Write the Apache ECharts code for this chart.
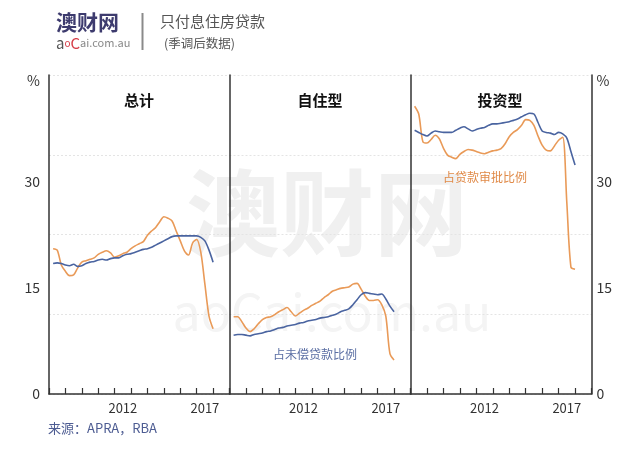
<!DOCTYPE html>
<html><head><meta charset="utf-8">
<script src="https://cdn.jsdelivr.net/npm/echarts@6/dist/echarts.min.js"></script>
<style>html,body{margin:0;padding:0;background:#fff}#c{width:640px;height:454px}</style>
</head><body><div id="c"></div>
<script>
var years = ['2008','2009','2010','2011','2012','2013','2014','2015','2016','2017','2018'];
var shownYears = ['2012','2017'];
var yTicks = [0, 15, 30];
var panelTitles = ['总计', '自住型', '投资型'];
var quarters = [2008.25,2008.5,2008.75,2009,2009.25,2009.5,2009.75,2010,2010.25,2010.5,2010.75,2011,2011.25,2011.5,2011.75,2012,2012.25,2012.5,2012.75,2013,2013.25,2013.5,2013.75,2014,2014.25,2014.5,2014.75,2015,2015.25,2015.5,2015.75,2016,2016.25,2016.5,2016.75,2017,2017.25,2017.5,2017.75,2018];

var totalOutstanding = [18.4,18.5,18.4,18.2,18.1,18.3,18.0,18.1,18.4,18.6,18.7,18.9,19.0,18.9,19.1,19.2,19.2,19.5,19.7,19.8,20.0,20.2,20.4,20.5,20.7,21.0,21.3,21.6,21.9,22.2,22.3,22.3,22.3,22.3,22.3,22.3,22.1,21.6,20.3,18.6];
var totalApprovals = [20.5,20.3,18.2,17.3,16.7,16.8,17.8,18.6,18.8,19.0,19.2,19.7,20.0,20.2,19.9,19.3,19.5,19.8,20.0,20.5,20.9,21.2,21.5,22.4,23.0,23.5,24.3,25.0,24.8,24.4,23.0,21.6,20.2,19.6,21.3,21.8,20.0,15.5,11.0,9.2];
var ownerOutstanding = [8.3,8.4,8.4,8.3,8.2,8.4,8.5,8.6,8.8,8.9,9.1,9.3,9.4,9.6,9.7,9.8,10.0,10.1,10.3,10.4,10.5,10.7,10.8,10.9,11.1,11.3,11.6,11.8,12.0,12.6,13.3,14.0,14.3,14.2,14.1,14.0,14.1,13.4,12.4,11.6];
var ownerApprovals = [10.9,10.9,10.2,9.3,8.8,9.2,9.9,10.5,10.8,10.9,11.2,11.6,11.9,12.2,11.6,11.0,11.4,11.8,12.1,12.5,12.8,13.1,13.6,14.0,14.5,14.7,14.9,15.0,15.1,15.5,15.6,14.8,13.8,13.2,13.2,13.3,12.6,11.0,5.7,4.8];
var investOutstanding = [37.2,36.9,36.6,36.4,36.8,37.1,37.0,36.9,36.9,36.9,37.2,37.5,37.7,37.4,37.1,37.3,37.5,37.6,37.9,38.1,38.1,38.2,38.3,38.4,38.6,38.8,39.1,39.4,39.6,39.5,38.3,37.1,36.9,36.8,36.6,36.9,36.7,36.1,34.2,32.3];
var investApprovals = [40.6,39.5,35.6,35.4,35.9,36.5,36.0,34.7,33.7,33.4,33.2,33.8,34.2,34.5,34.4,34.2,34.0,33.9,34.1,34.3,34.4,34.6,35.3,36.3,36.9,37.3,37.9,38.7,38.6,37.9,36.4,35.1,34.4,34.3,35.0,35.8,36.2,27.0,17.9,17.6];

var outstandingLabel = '占未偿贷款比例';
var approvalsLabel = '占贷款审批比例';

var BLUE = '#4a64a0', ORANGE = '#e99a58', AX = '#333';
var FONT = '"Noto Sans CJK SC", "Noto Sans", sans-serif';

function pairs(xs, ys){ return xs.map(function(x,i){ return [x, ys[i]]; }); }

var grids = [
  {left: 49, width: 180.5, top: 75, height: 319},
  {left: 229.5, width: 181, top: 75, height: 319},
  {left: 410.5, width: 181, top: 75, height: 319}
];

var xAxes = [], yAxes = [];
grids.forEach(function(g, i){
  xAxes.push({
    type: 'category', gridIndex: i, data: years, boundaryGap: true,
    axisLine: {show: true, lineStyle: {color: AX, width: 1.5}},
    axisTick: {show: true, inside: true, length: 6, interval: 0, lineStyle: {color: AX, width: 1.2}},
    axisLabel: {margin: 8, color: AX, fontSize: 13, fontFamily: FONT,
      interval: function(idx, val){ return shownYears.indexOf(val) >= 0; }},
    splitLine: {show: false}
  });
  xAxes.push({type: 'value', gridIndex: i, min: 2008, max: 2019, show: false});
});

function labelAxis(grid, pos, showLabels){
  return {
    type: 'value', gridIndex: grid, position: pos, min: 0, max: 45, interval: 15,
    axisLine: {show: true, onZero: false, lineStyle: {color: AX, width: 1.5}},
    axisTick: {show: false}, splitLine: {show: false},
    axisLabel: {show: showLabels, color: AX, fontSize: 14, fontFamily: FONT, margin: pos === 'left' ? 9 : 5,
      formatter: function(v){ return v === 45 ? '{p|%}' : (yTicks.indexOf(v) >= 0 ? String(v) : ''); },
      rich: {p: {padding: [12, 0, 0, 0], fontSize: 14, color: AX, fontFamily: FONT}}}
  };
}
function splitAxis(grid){
  return {
    type: 'value', gridIndex: grid, min: 0, max: 45, interval: 11.25,
    axisLine: {show: false}, axisTick: {show: false}, axisLabel: {show: false},
    splitLine: {show: true, lineStyle: {color: '#e4e4e4', type: [2, 2], width: 1}}
  };
}
yAxes.push(labelAxis(0, 'left', true));   // 0
yAxes.push(splitAxis(0));                 // 1
yAxes.push(labelAxis(1, 'left', false));  // 2
yAxes.push(splitAxis(1));                 // 3
yAxes.push(labelAxis(2, 'left', false));  // 4
yAxes.push(splitAxis(2));                 // 5
yAxes.push(labelAxis(2, 'right', true));  // 6

function line(name, grid, yIdx, data, color){
  return {
    name: name, type: 'line', xAxisIndex: grid * 2 + 1, yAxisIndex: yIdx,
    data: pairs(quarters, data), showSymbol: false, smooth: 0.3, z: 5,
    lineStyle: {color: color, width: 1.6}, itemStyle: {color: color}
  };
}

var series = [
  line(approvalsLabel, 0, 0, totalApprovals, ORANGE),
  line(outstandingLabel, 0, 0, totalOutstanding, BLUE),
  line(approvalsLabel, 1, 2, ownerApprovals, ORANGE),
  line(outstandingLabel, 1, 2, ownerOutstanding, BLUE),
  line(approvalsLabel, 2, 4, investApprovals, ORANGE),
  line(outstandingLabel, 2, 4, investOutstanding, BLUE)
];

var graphics = [
  // watermark
  {type: 'text', x: 327, y: 213, z: -10, silent: true, style: {text: '澳财网', align: 'center', verticalAlign: 'middle', font: 'bold 94px ' + FONT, fill: '#f0f0f0'}},
  {type: 'text', x: 332, y: 312, z: -10, silent: true, style: {text: 'aoCai.com.au', align: 'center', verticalAlign: 'middle', font: '50px ' + FONT, fill: '#f4f4f4'}},
  // header logo
  {type: 'text', x: 56, y: 22, style: {text: '澳财网', verticalAlign: 'middle', font: 'bold 21px ' + FONT, fill: '#3d3b6e'}},
  {type: 'text', x: 56, y: 43, style: {text: '{a|a}{o|o}{c|C}{r|ai.com.au}', verticalAlign: 'middle',
     rich: {a: {fontSize: 15, fill: '#555', fontFamily: FONT}, o: {fontSize: 10, fill: '#d6404a', fontFamily: FONT},
            c: {fontSize: 15, fill: '#d6404a', fontFamily: FONT}, r: {fontSize: 11, fill: '#888', fontFamily: FONT}}}},
  {type: 'rect', shape: {x: 141.5, y: 13, width: 2, height: 37}, style: {fill: '#8a8a8a'}},
  {type: 'text', x: 160, y: 21, style: {text: '只付息住房贷款', verticalAlign: 'middle', font: '15px ' + FONT, fill: '#555'}},
  {type: 'text', x: 164, y: 43, style: {text: '(季调后数据)', verticalAlign: 'middle', font: '12.5px ' + FONT, fill: '#555'}},
  // panel titles
  {type: 'text', x: 139, y: 100, style: {text: panelTitles[0], align: 'center', verticalAlign: 'middle', font: 'bold 15px ' + FONT, fill: '#111'}},
  {type: 'text', x: 320, y: 100, style: {text: panelTitles[1], align: 'center', verticalAlign: 'middle', font: 'bold 15px ' + FONT, fill: '#111'}},
  {type: 'text', x: 500, y: 100, style: {text: panelTitles[2], align: 'center', verticalAlign: 'middle', font: 'bold 15px ' + FONT, fill: '#111'}},
  // annotations
  {type: 'text', x: 315, y: 354, style: {text: outstandingLabel, align: 'center', verticalAlign: 'middle', font: '12px ' + FONT, fill: '#5a6ea3'}},
  {type: 'text', x: 485, y: 177, style: {text: approvalsLabel, align: 'center', verticalAlign: 'middle', font: '12px ' + FONT, fill: '#e08a48'}},
  // source
  {type: 'text', x: 48, y: 428, style: {text: '来源：APRA，RBA', verticalAlign: 'middle', font: '13px ' + FONT, fill: '#4d5c92'}}
];

var chart = echarts.init(document.getElementById('c'), null, {renderer: 'canvas'});
chart.setOption({
  backgroundColor: '#fff',
  animation: false,
  grid: grids,
  xAxis: xAxes,
  yAxis: yAxes,
  series: series,
  graphic: graphics
});
</script></body></html>
